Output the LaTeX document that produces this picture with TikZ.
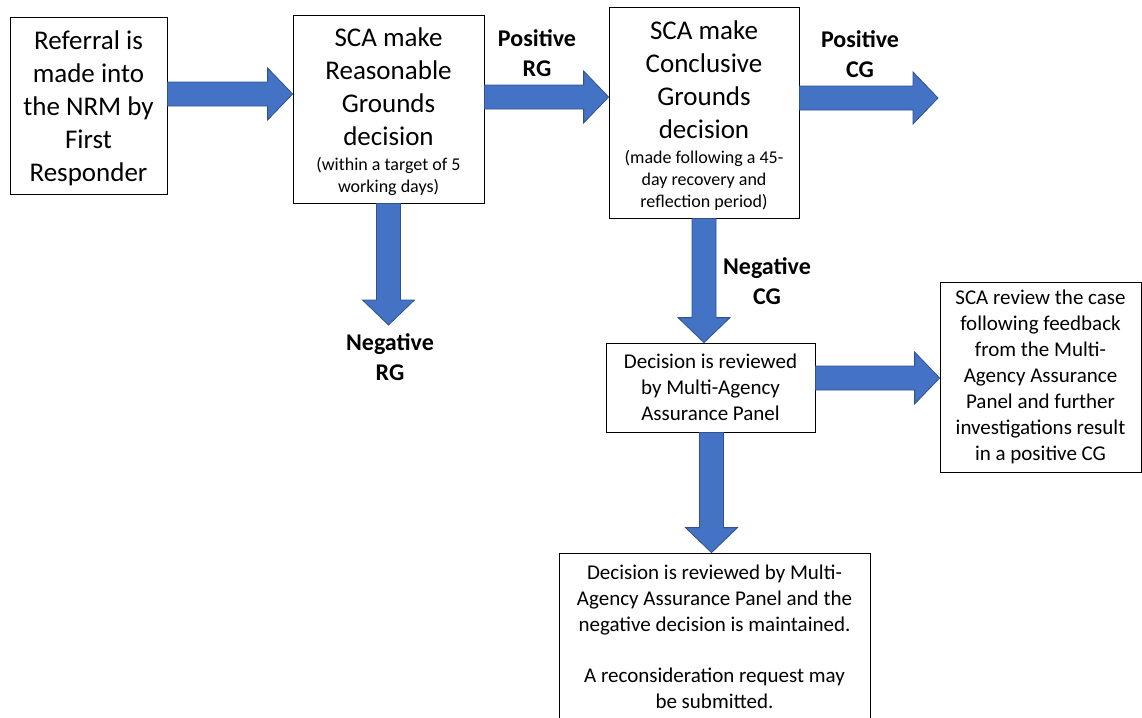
\documentclass[tikz,border=0pt]{standalone}
\usepackage{fontspec}
\setmainfont{Carlito}
\usetikzlibrary{calc}
\definecolor{arrowblue}{HTML}{4472C4}
\definecolor{arrowedge}{HTML}{2F528F}
\tikzset{
  box/.style={draw=black,line width=0.8pt,inner sep=4pt,align=flush center},
  bigtext/.style={font=\fontsize{27}{33}\selectfont,execute at end node={\par\vspace{-6pt}}},
  midtext/.style={font=\fontsize{21}{26}\selectfont},
  outcome/.style={font=\fontsize{24}{30}\selectfont\bfseries,align=center},
  fatarrow/.style={fill=arrowblue,draw=arrowedge,line width=0.8pt,line join=miter}
}
\newcommand{\smalltext}[1]{\par\vspace{3pt}{\fontsize{18}{22}\selectfont #1\par}}

\begin{document}
\begin{tikzpicture}[x=1pt,y=-1pt]
\useasboundingbox (0,0) rectangle (1142,717);
% decision boxes
\node[box,bigtext,text width=149pt,minimum height=177pt] (ref) at (88.5,105.5)
  {Referral is\\made into\\the NRM by\\First\\Responder};
\node[box,bigtext,text width=183pt,minimum height=188pt] (rg) at (388.5,109)
  {SCA make\\Reasonable\\Grounds\\decision\smalltext{(within a target of 5\\working days)}};
\node[box,bigtext,text width=182pt,minimum height=211pt] (cg) at (704,112.5)
  {SCA make\\Conclusive\\Grounds\\decision\smalltext{(made following a 45-\\day recovery and\\reflection period)}};
\node[box,midtext,text width=201pt,minimum height=89pt] (mapd) at (710.5,387.5)
  {Decision is reviewed\\by Multi-Agency\\Assurance Panel};
\node[box,midtext,text width=193pt,minimum height=190pt] (review) at (1040.5,377)
  {SCA review the case\\following feedback\\from the Multi-\\Agency Assurance\\Panel and further\\investigations result\\in a positive CG};
\node[box,midtext,text width=303pt,minimum height=168pt] (final) at (714.5,637)
  {Decision is reviewed by Multi-\\Agency Assurance Panel and the\\negative decision is maintained.\\[25pt]A reconsideration request may\\be submitted.};
% outcome labels
\node[outcome] (posrg) at (537,53) {Positive\\RG};
\node[outcome] (negrg) at (390,357.5) {Negative\\RG};
\node[outcome] (poscg) at (860,54) {Positive\\CG};
\node[outcome] (negcg) at (767,281) {Negative\\CG};
% arrow ends
\coordinate (s1) at ([yshift=11.5pt]ref.east);  \coordinate (t1) at (rg.west |- s1);
\coordinate (s2) at ([yshift=12pt]rg.east);     \coordinate (t2) at (cg.west |- s2);
\coordinate (s3) at ([yshift=14.5pt]cg.east);   \coordinate (t3) at (938,98);
\coordinate (s4) at (rg.south);                 \coordinate (t4) at (388.5,325);
\coordinate (s5) at (cg.south);                 \coordinate (t5) at (mapd.north -| s5);
\coordinate (s6) at ([yshift=9.5pt]mapd.east);  \coordinate (t6) at (review.west |- s6);
\coordinate (s7) at ([xshift=1pt]mapd.south);   \coordinate (t7) at (final.north -| s7);
\foreach \i in {1,...,7}
  \path[fatarrow] let \p1=(s\i), \p2=(t\i),
      \n1={atan2(\y2-\y1,\x2-\x1)}, \n2={veclen(\x2-\x1,\y2-\y1)-25} in
    (\p1) ++({\n1+90}:12pt) -- ++(\n1:{\n2*1pt}) -- ++({\n1+90}:14pt) -- (\p2)
    -- ($(\p1)+(\n1:{\n2*1pt})+({\n1-90}:26pt)$) -- ++({\n1+90}:14pt)
    -- ++({\n1+180}:{\n2*1pt}) -- cycle;
\end{tikzpicture}
\end{document}
